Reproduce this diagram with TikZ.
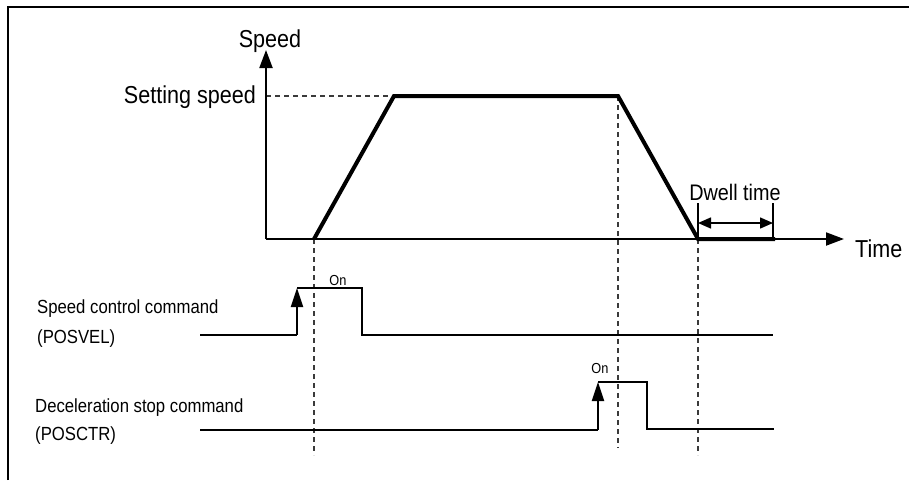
\documentclass[tikz,border=0pt]{standalone}
\usepackage{fontspec}
\setmainfont[FakeStretch=0.88]{Liberation Sans}
\usepackage{tikz}
\usetikzlibrary{arrows.meta,positioning}
\definecolor{ink}{HTML}{000000}
\definecolor{guide}{HTML}{3A3A3A}
\tikzset{
    every picture/.style={line join=miter},
    axisline/.style={draw=ink,line width=2pt},
    axistip/.style={-{Triangle[length=18pt,width=13pt]}},
    profile/.style={draw=ink,line width=4pt,line join=miter},
    signal/.style={draw=ink,line width=2pt},
    risetip/.style={-{Triangle[length=19pt,width=12pt]}},
    guideline/.style={draw=guide,line width=1.4pt,dash pattern=on 5pt off 4pt},
    dwelltick/.style={draw=ink,line width=1.5pt},
    dwellspan/.style={{Triangle[length=13pt,width=11pt]}-{Triangle[length=13pt,width=11pt]},line width=1.5pt},
    biglabel/.style={font=\fontsize{24.5}{27}\selectfont,inner sep=0pt},
    smalllabel/.style={font=\fontsize{19}{21}\selectfont,inner sep=0pt},
    onlabel/.style={font=\fontsize{14.5}{16}\selectfont,inner sep=0pt}
}
\begin{document}
\begin{tikzpicture}[x=1pt,y=-1pt]
  \useasboundingbox (0,0) rectangle (909,480);
  % frame (only top and left show)
  \draw[line width=2.2pt] (8,480) -- (8,7) -- (909,7);

  % speed profile points
  \coordinate (origin) at (266,239);
  \coordinate (ytop) at (266,50);
  \coordinate (xend) at (844,239);
  \coordinate (accstart) at (314,239);
  \coordinate (accend) at (394,96);
  \coordinate (decstart) at (618,96);
  \coordinate (decend) at (698,239);
  \coordinate (dwellend) at (775,239);
  \coordinate (setlevel) at (266,96);

  % guide lines
  \draw[guideline] (setlevel) -- (accend);
  \draw[guideline] (accstart) -- (314,455);
  \draw[guideline] (decstart) -- (618,448);
  \draw[guideline] (decend) -- (698,455);

  % axes
  \draw[axisline,axistip] (origin) -- (ytop);
  \draw[axisline,axistip] (origin) -- (xend);
  \node[biglabel,anchor=base] (speedlbl) at (270,47) {Speed};
  \node[biglabel,anchor=base west] (timelbl) at (855,257) {Time};
  \node[biglabel,anchor=base east] (setlbl) at (256,103) {Setting speed};

  % trapezoid
  \draw[profile] (accstart) -- (accend) -- (decstart) -- (decend) -- (dwellend);

  % dwell time
  \coordinate (dwtickA) at (698,203);
  \coordinate (dwtickB) at (773,203);
  \coordinate (dwtickBb) at (773,239);
  \draw[dwelltick] (decend) -- (dwtickA);
  \draw[dwelltick] (dwtickBb) -- (dwtickB);
  \draw[dwellspan] (698,223) -- (773,223);
  \node[biglabel,font=\fontsize{22.5}{24}\selectfont,anchor=base] (dwelllbl) at (735,200) {Dwell time};

  % speed control command (POSVEL)
  \node[smalllabel,anchor=base west] (velA) at (37,313) {Speed control command};
  \node[smalllabel,anchor=base west] (velB) at (37,343) {(POSVEL)};
  \coordinate (velrise) at (297,335);
  \coordinate (veltop) at (297,288);
  \draw[signal] (200,335) -- (velrise);
  \draw[signal,risetip] (velrise) -- (veltop);
  \draw[signal] (veltop) -- (362,288) -- (362,335) -- (773,335);
  \node[onlabel,anchor=base] (velon) at (338,285) {On};

  % deceleration stop command (POSCTR)
  \node[smalllabel,anchor=base west] (ctrA) at (35,412) {Deceleration stop command};
  \node[smalllabel,anchor=base west] (ctrB) at (35,440) {(POSCTR)};
  \coordinate (ctrrise) at (598,430);
  \coordinate (ctrtop) at (598,382);
  \draw[signal] (200,430) -- (ctrrise);
  \draw[signal,risetip] (ctrrise) -- (ctrtop);
  \draw[signal] (ctrtop) -- (647,382) -- (647,429) -- (774,429);
  \node[onlabel,anchor=base] (ctron) at (600,373) {On};
\end{tikzpicture}
\end{document}
